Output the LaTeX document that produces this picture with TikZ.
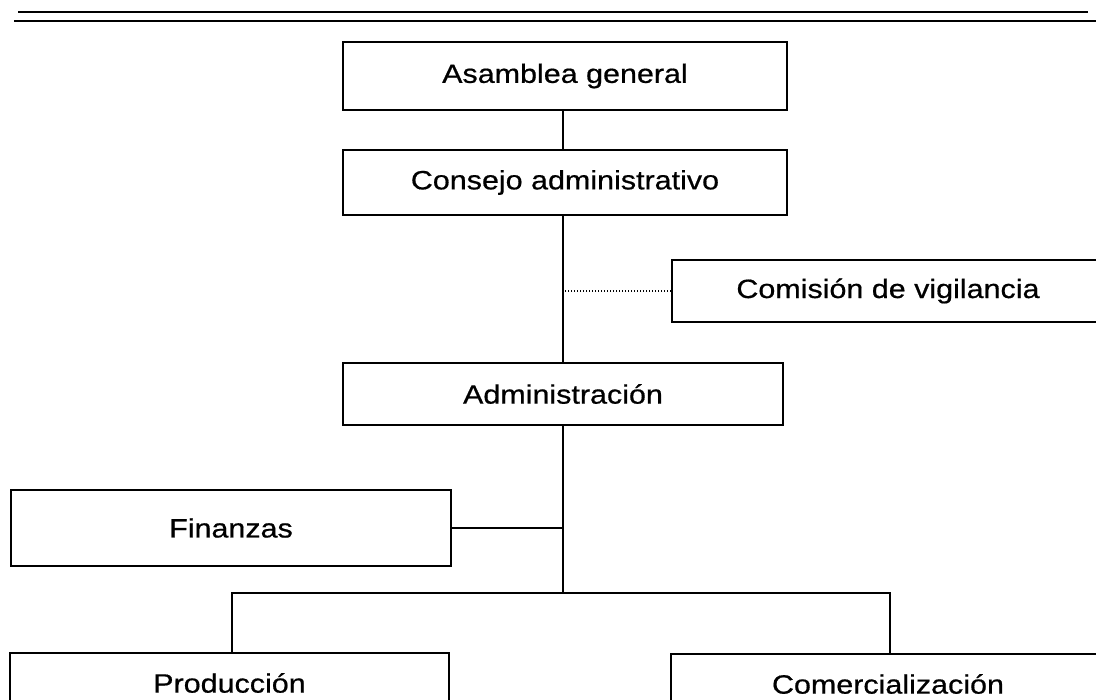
\documentclass[tikz,border=0pt]{standalone}
\usepackage{fontspec}
\setmainfont{Liberation Sans}[FakeStretch=1.15,FakeBold=0.6]
\begin{document}
\begin{tikzpicture}[x=1pt,y=-1pt,
  box/.style={draw,line width=1.6pt,inner sep=0pt,font=\fontsize{26.5}{30}\selectfont},
  conn/.style={line width=1.3pt},
  dotconn/.style={line width=1.4pt,dash pattern=on 1.6pt off 1.4pt}]
\useasboundingbox (0,0) rectangle (1096,700);
\clip (0,0) rectangle (1096,700);
\fill[white] (0,0) rectangle (1096,700);
% top rules
\draw[line width=2.7pt] (18,12) -- (1088,12);
\draw[line width=1.8pt] (14,21) -- (1096,21);
% boxes
\node[box,minimum width=444pt,minimum height=68pt] (asam) at (565,76) {Asamblea general};
\node[box,minimum width=444pt,minimum height=65pt] (cons) at (565,182.5) {Consejo administrativo};
\node[box,minimum width=432pt,minimum height=62pt] (com) at (888,291) {Comisión de vigilancia};
\node[box,minimum width=440pt,minimum height=62pt] (adm) at (563,394) {Administración};
\node[box,minimum width=440pt,minimum height=76pt] (fin) at (231,528) {Finanzas};
\node[box,minimum width=439pt,minimum height=60pt] (prod) at (229.5,683) {Producción};
\node[box,minimum width=434pt,minimum height=60pt] (come) at (888,684) {Comercialización};
% connectors
\coordinate (sp) at (563,0);
\coordinate (bar) at (563,593);
\coordinate (pl) at (232,593);
\coordinate (pr) at (890,593);
\draw[conn] (asam.south -| sp) -- (cons.north -| sp);
\draw[conn] (cons.south -| sp) -- (adm.north -| sp);
\draw[dotconn] (com.west) -- (com.west -| sp);
\draw[conn] (adm.south -| sp) -- (bar);
\draw[conn] (fin.east) -- (fin.east -| sp);
\draw[conn] (prod.north -| pl) -- (pl) -- (pr) -- (come.north -| pr);
\end{tikzpicture}
\end{document}
